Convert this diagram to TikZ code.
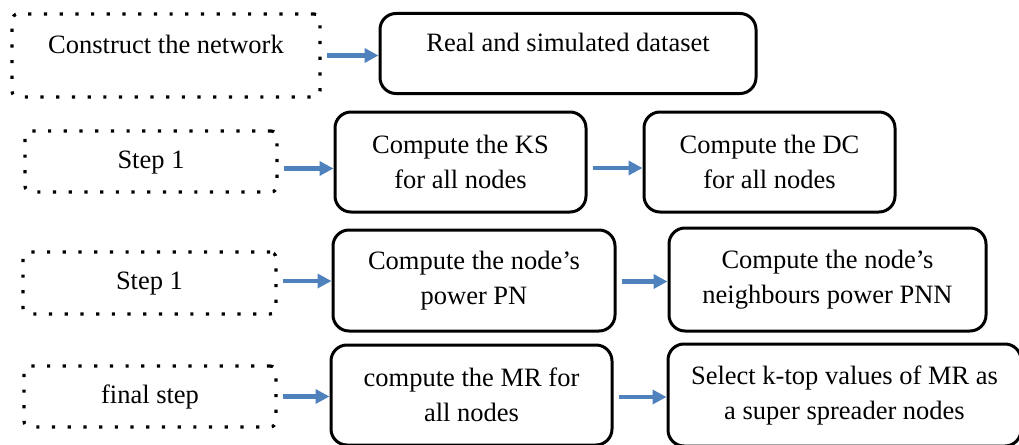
\documentclass[tikz,border=0pt]{standalone}
\usepackage{fontspec}
\setmainfont{Liberation Serif}
\usetikzlibrary{arrows.meta}
\definecolor{flowblue}{RGB}{79,129,189}
\tikzset{
  dotbox/.style={draw,line width=3.2pt,dash pattern=on 3.2pt off 12.5pt,rounded corners=6pt,
    inner sep=0pt,text height=19pt,text depth=6pt},
  solidbox/.style={draw,line width=3pt,rounded corners=16pt,inner sep=0pt,align=center},
  upper/.style={text height=19pt,text depth=22pt},
  flow/.style={flowblue,line width=4.5pt,shorten <=5pt,-{Triangle[length=14pt,width=14pt]}}
}
\begin{document}
\begin{tikzpicture}[x=1pt,y=-1pt,font=\fontsize{26.5}{35}\selectfont]
    \useasboundingbox (0,0) rectangle (1019,444);
    \node[dotbox,upper,minimum width=308pt,minimum height=83pt] (construct) at (166,55.5) {Construct the network};
    \node[solidbox,upper,minimum width=376pt,minimum height=80pt] (dataset) at (568,53.5) {Real and simulated dataset};
    \node[dotbox,minimum width=252pt,minimum height=61pt] (stepa) at (151,161.5) {Step 1};
    \node[solidbox,minimum width=251pt,minimum height=100pt] (ks) at (460.5,162) {Compute the KS\\for all nodes};
    \node[solidbox,minimum width=251pt,minimum height=100pt] (dc) at (769.5,162) {Compute the DC\\for all nodes};
    \node[dotbox,minimum width=253pt,minimum height=62pt] (stepb) at (149.5,283) {Step 1};
    \node[solidbox,minimum width=282pt,minimum height=101pt] (pn) at (474,280.5) {Compute the node's\\power PN};
    \node[solidbox,minimum width=317pt,minimum height=103pt] (pnn) at (827.5,279.5) {Compute the node's\\neighbours power PNN};
    \node[dotbox,minimum width=252pt,minimum height=61pt] (final) at (150,396.5) {final step};
    \node[solidbox,minimum width=281pt,minimum height=100pt] (mr) at (471.5,395) {compute the MR for\\all nodes};
    \node[solidbox,minimum width=353pt,minimum height=102pt] (select) at (844.5,395) {Select k-top values of MR as\\a super spreader nodes};
    \draw[flow] (construct.east) -- (construct.east -| dataset.west);
    \draw[flow] ([yshift=-7pt]stepa.east) -- ([yshift=-7pt]stepa.east -| ks.west);
    \draw[flow] ([yshift=-6pt]ks.east) -- ([yshift=-6pt]ks.east -| dc.west);
    \draw[flow] ([yshift=2pt]stepb.east) -- ([yshift=2pt]stepb.east -| pn.west);
    \draw[flow] ([yshift=-1pt]pn.east) -- ([yshift=-1pt]pn.east -| pnn.west);
    \draw[flow] (final.east) -- (final.east -| mr.west);
    \draw[flow] ([yshift=-2pt]mr.east) -- ([yshift=-2pt]mr.east -| select.west);
\end{tikzpicture}
\end{document}
